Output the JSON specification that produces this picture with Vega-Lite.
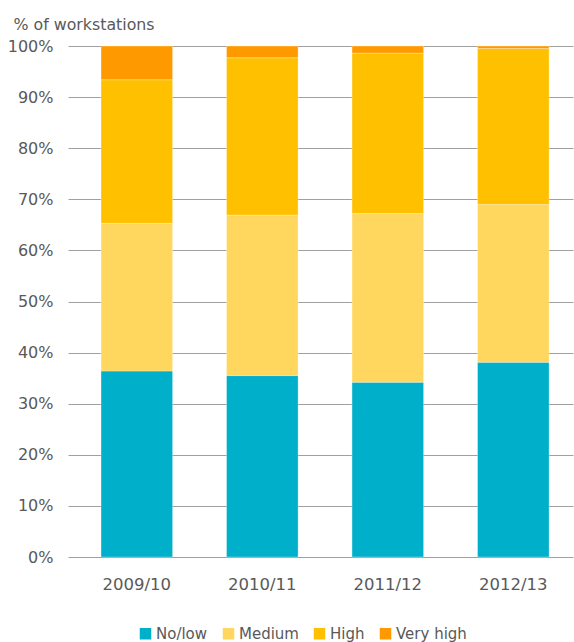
{
  "$schema": "https://vega.github.io/schema/vega-lite/v6.json",
  "width": 505,
  "height": 511,
  "autosize": {"type": "none"},
  "padding": {"left": 68, "top": 46, "right": 1, "bottom": 85},
  "background": "white",
  "config": {
    "view": {"stroke": null},
    "font": "DejaVu Sans",
    "axis": {"labelFont": "DejaVu Sans", "titleFont": "DejaVu Sans", "labelColor": "#595959", "titleColor": "#595959"}
  },
  "data": {
    "values": [
      {"year": "2009/10", "level": "No/low", "order": 1, "value": 0.364},
      {"year": "2009/10", "level": "Medium", "order": 2, "value": 0.289},
      {"year": "2009/10", "level": "High", "order": 3, "value": 0.281},
      {"year": "2009/10", "level": "Very high", "order": 4, "value": 0.066},
      {"year": "2010/11", "level": "No/low", "order": 1, "value": 0.355},
      {"year": "2010/11", "level": "Medium", "order": 2, "value": 0.314},
      {"year": "2010/11", "level": "High", "order": 3, "value": 0.308},
      {"year": "2010/11", "level": "Very high", "order": 4, "value": 0.023},
      {"year": "2011/12", "level": "No/low", "order": 1, "value": 0.342},
      {"year": "2011/12", "level": "Medium", "order": 2, "value": 0.330},
      {"year": "2011/12", "level": "High", "order": 3, "value": 0.314},
      {"year": "2011/12", "level": "Very high", "order": 4, "value": 0.014},
      {"year": "2012/13", "level": "No/low", "order": 1, "value": 0.381},
      {"year": "2012/13", "level": "Medium", "order": 2, "value": 0.309},
      {"year": "2012/13", "level": "High", "order": 3, "value": 0.305},
      {"year": "2012/13", "level": "Very high", "order": 4, "value": 0.005}
    ]
  },
  "mark": {"type": "bar", "stroke": "white", "strokeWidth": 0.5, "strokeOpacity": 0.6},
  "encoding": {
    "x": {
      "field": "year",
      "type": "nominal",
      "sort": null,
      "scale": {"paddingInner": 0.43, "paddingOuter": 0.227, "align": 0.58},
      "axis": {
        "title": null,
        "labelAngle": 0,
        "labelFontSize": 16.5,
        "labelPadding": 19,
        "ticks": false,
        "domain": false
      }
    },
    "y": {
      "field": "value",
      "type": "quantitative",
      "stack": "zero",
      "scale": {"domain": [0, 1], "nice": false},
      "axis": {
        "title": "% of workstations",
        "titleAngle": 0,
        "titleAlign": "left",
        "titleBaseline": "alphabetic",
        "titleX": -55,
        "titleY": -17,
        "titleFontSize": 15.8,
        "titleFontWeight": "normal",
        "format": ".0%",
        "values": [0, 0.1, 0.2, 0.3, 0.4, 0.5, 0.6, 0.7, 0.8, 0.9, 1],
        "labelFontSize": 16,
        "labelPadding": 15,
        "ticks": false,
        "domain": false,
        "grid": true,
        "gridColor": "#a0a0a0",
        "gridWidth": 1.2
      }
    },
    "color": {
      "field": "level",
      "type": "nominal",
      "scale": {
        "domain": ["No/low", "Medium", "High", "Very high"],
        "range": ["#00AFCA", "#FFD75E", "#FFC000", "#FF9900"]
      },
      "legend": {
        "title": null,
        "orient": "none",
        "direction": "horizontal",
        "legendX": 70,
        "legendY": 580,
        "symbolType": "square",
        "symbolSize": 132,
        "symbolStrokeWidth": 0,
        "labelFontSize": 15,
        "labelFont": "DejaVu Sans",
        "labelColor": "#595959",
        "labelOffset": 3,
        "columnPadding": 13
      }
    },
    "order": {"field": "order", "type": "quantitative"}
  }
}
